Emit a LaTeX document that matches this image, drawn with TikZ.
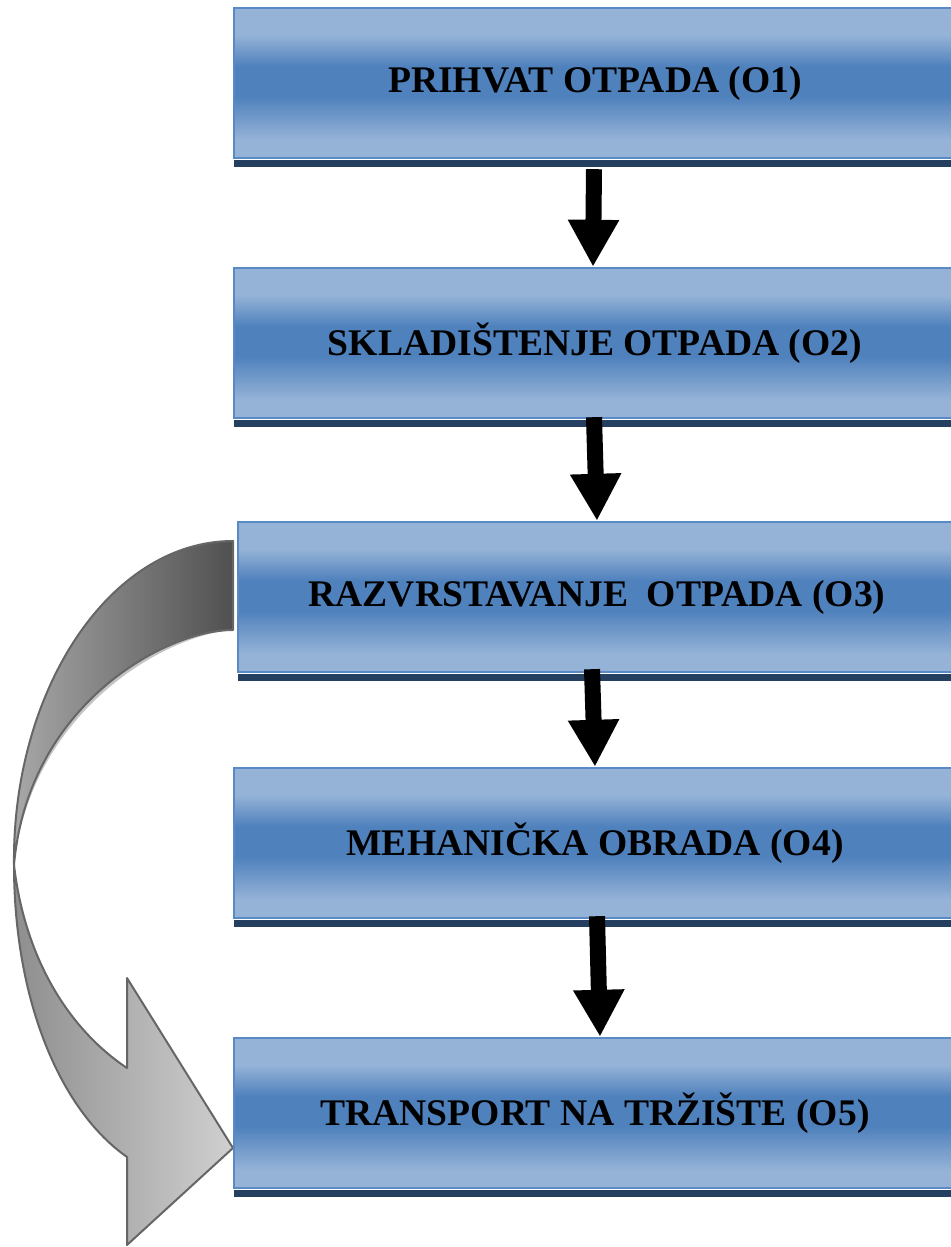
\documentclass[tikz,border=0pt]{standalone}
\usepackage{fontspec}
\setmainfont{Liberation Serif}
\usetikzlibrary{arrows.meta}
\definecolor{bl}{HTML}{95B3D7}
\definecolor{bd}{HTML}{4F81BD}
\definecolor{bdr}{HTML}{5A8AC6}
\definecolor{shd}{HTML}{243F60}
\definecolor{gline}{HTML}{666666}
\definecolor{gshadow}{HTML}{C4C4C4}
\definecolor{gup1}{HTML}{A8A8A8}
\definecolor{gup2}{HTML}{505050}
\definecolor{glo1}{HTML}{8E8E8E}
\definecolor{glo2}{HTML}{D0D0D0}
\pgfdeclareverticalshading{boxshade}{100bp}{color(0bp)=(bl); color(31bp)=(bl); color(45.5bp)=(bd); color(55.5bp)=(bd); color(66bp)=(bl); color(100bp)=(bl)}
\tikzset{
  box/.style={shading=boxshade, draw=bdr, line width=1.2pt,
    minimum width=361pt, minimum height=75pt, inner sep=0pt,
    font=\bfseries\fontsize{18.8}{22}\selectfont},
  boxshadow/.style={fill=shd},
  blk/.style={line width=8pt, -{Triangle[width=24pt,length=23.5pt]}},
  garrowline/.style={draw=gline, line width=1pt, line join=round}
}
\begin{document}
\begin{tikzpicture}[x=0.5pt,y=-0.5pt]
\useasboundingbox (0,0) rectangle (951,1247);
\clip (0,0) rectangle (951,1247);
% curved gray arrow
\coordinate (g1) at (233,541);
\coordinate (g2) at (233,630);
\coordinate (gp) at (14,865);
\coordinate (g3) at (127,1157);
\coordinate (g4) at (127,1245);
\coordinate (gt) at (233,1148);
\coordinate (g5) at (127,978);
\coordinate (g6) at (127,1068);
\begin{scope}[shift={(3,4)}]
\fill[gshadow] (g1) .. controls (110,541) and (12,690) .. (gp) .. controls (28,705) and (165,630) .. (g2) -- cycle;
\fill[gshadow] (gp) .. controls (14,1000) and (60,1110) .. (g3) -- (g4) -- (gt) -- (g5) -- (g6) .. controls (70,1030) and (25,960) .. (gp) -- cycle;
\end{scope}
\path[left color=gup1, right color=gup2, garrowline] (g1) .. controls (110,541) and (12,690) .. (gp) .. controls (28,705) and (165,630) .. (g2) -- cycle;
\path[left color=glo1, right color=glo2, garrowline] (gp) .. controls (14,1000) and (60,1110) .. (g3) -- (g4) -- (gt) -- (g5) -- (g6) .. controls (70,1030) and (25,960) .. (gp) -- cycle;
% boxes
\node[box] (b1) at (595,83) {PRIHVAT OTPADA (O1)};
\node[box] (b2) at (595,343) {SKLADIŠTENJE OTPADA (O2)};
\node[box, minimum width=359pt] (b3) at (597,597) {RAZVRSTAVANJE\ \ OTPADA (O3)};
\node[box] (b4) at (595,843) {MEHANIČKA OBRADA (O4)};
\node[box] (b5) at (595,1113) {TRANSPORT NA TRŽIŠTE (O5)};
\foreach \b in {b1,b2,b3,b4,b5}{
  \fill[boxshadow] ([xshift=0.5pt,yshift=-0.6pt]\b.south west) rectangle ([yshift=-4pt]\b.south east);
}
% black arrows
\draw[blk] ([xshift=-0.5pt,yshift=-5pt]b1.south) -- ([xshift=-1pt]b2.north);
\draw[blk] ([xshift=-0.5pt,yshift=1pt]b2.south) -- (b3.north);
\draw[blk] ([xshift=-2.5pt,yshift=2pt]b3.south) -- (b4.north);
\draw[blk] ([xshift=1pt,yshift=1.5pt]b4.south) -- ([xshift=2.5pt]b5.north);
\end{tikzpicture}
\end{document}
